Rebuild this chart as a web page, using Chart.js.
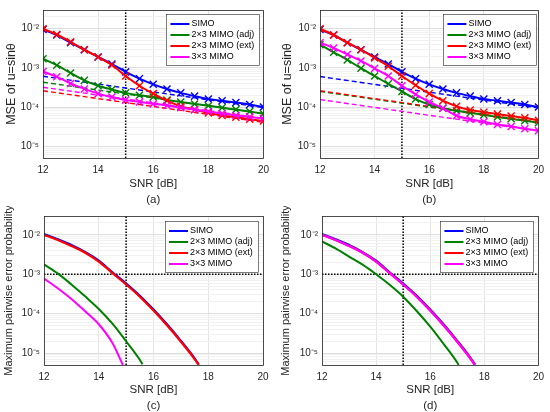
<!DOCTYPE html>
<html>
<head>
<meta charset="utf-8">
<script src="https://cdn.jsdelivr.net/npm/chart.js@4.4.1/dist/chart.umd.min.js"></script>
<style>
body{margin:0;background:#fff;}
#wrap{position:relative;width:550px;height:412px;overflow:hidden;background:#fff}
#wrap canvas{position:absolute}
</style>
</head>
<body>
<div id="wrap">
<canvas id="chartA" width="275" height="208" style="left:0;top:0"></canvas>
<canvas id="chartB" width="275" height="208" style="left:275px;top:0"></canvas>
<canvas id="chartC" width="275" height="208" style="left:0;top:206px"></canvas>
<canvas id="chartD" width="275" height="208" style="left:275px;top:206px"></canvas>
</div>
<script>
// ---- data ----

const snrGrid=[12,12.5,13,13.5,14,14.5,15,15.5,16,16.5,17,17.5,18,18.5,19,19.5,20];
const crbSnr=[12,20];
const decadeTicks=[1e-5,1e-4,1e-3,1e-2];
const minorSteps=[1,2,3,4,5,6,7,8,9];
const legendLabels=["SIMO","2\u00d73 MIMO (adj)","2\u00d73 MIMO (ext)","3\u00d73 MIMO"];
const seriesColors=["#0000ff","#008000","#ff0000","#ff00ff"];
const refSnr=15;
const refPep=1e-3;
const yMin=5e-6, yMax=3e-2;

// (a) MSE, solid = simulated, dashed = CRB
const mseSimoA=[9.5e-3,6.9e-3,4.4e-3,2.9e-3,1.9e-3,1.25e-3,7.9e-4,5.3e-4,3.8e-4,2.9e-4,2.3e-4,1.9e-4,1.6e-4,1.45e-4,1.3e-4,1.16e-4,1.0e-4];
const mseAdjA=[1.7e-3,1.17e-3,7.4e-4,4.8e-4,3.5e-4,2.8e-4,2.3e-4,2.0e-4,1.8e-4,1.5e-4,1.35e-4,1.2e-4,1.08e-4,9.6e-5,8.6e-5,7.7e-5,6.7e-5];
const mseExtA=[1.0e-2,7.1e-3,4.6e-3,2.9e-3,1.9e-3,1.18e-3,6.2e-4,3.5e-4,2.2e-4,1.45e-4,1.04e-4,8.6e-5,7.1e-5,6.1e-5,5.5e-5,4.9e-5,4.4e-5];
const mse33A=[8.1e-4,5.9e-4,4.0e-4,2.9e-4,2.2e-4,1.8e-4,1.5e-4,1.35e-4,1.2e-4,1.1e-4,9.6e-5,8.6e-5,7.7e-5,6.8e-5,6.1e-5,5.6e-5,5.1e-5];
const crbSimoA=[6.1e-4,9.7e-5];
const crbAdjA=[4.3e-4,6.8e-5];
const crbExtA=[2.6e-4,4.1e-5];
const crb33A=[3.2e-4,5.1e-5];

// (b)
const mseSimoB=[9.5e-3,6.9e-3,4.4e-3,2.9e-3,1.9e-3,1.25e-3,7.9e-4,5.3e-4,3.8e-4,2.9e-4,2.3e-4,1.9e-4,1.6e-4,1.45e-4,1.3e-4,1.16e-4,1.0e-4];
const mseAdjB=[3.9e-3,2.5e-3,1.6e-3,9.8e-4,6.2e-4,3.9e-4,2.5e-4,1.6e-4,1.16e-4,9.3e-5,8.0e-5,7.1e-5,6.3e-5,5.6e-5,5.0e-5,4.5e-5,4.0e-5];
const mseExtB=[1.0e-2,6.9e-3,4.4e-3,2.9e-3,1.8e-3,1.1e-3,6.2e-4,3.6e-4,2.2e-4,1.45e-4,1.04e-4,8.4e-5,7.4e-5,6.6e-5,5.9e-5,5.3e-5,4.6e-5];
const mse33B=[4.4e-3,3.2e-3,2.2e-3,1.5e-3,9.7e-4,6.2e-4,3.5e-4,2.1e-4,1.35e-4,9.3e-5,6.0e-5,4.9e-5,4.2e-5,3.6e-5,3.2e-5,2.8e-5,2.5e-5];
const crbSimoB=[6.0e-4,9.5e-5];
const crbAdjB=[2.5e-4,4.0e-5];
const crbExtB=[2.6e-4,4.1e-5];
const crb33B=[1.55e-4,2.45e-5];

// (c) max pairwise error probability
const snrLongC=[12,12.5,13,13.5,14,14.5,15,15.5,16,16.5,17,17.5,17.65];
const pepSimoC=[1.04e-2,7.7e-3,5.5e-3,3.65e-3,2.2e-3,1.12e-3,5.8e-4,2.85e-4,1.27e-4,5.3e-5,2.05e-5,7.4e-6,5.2e-6];
const pepExtC=[1.0e-2,7.4e-3,5.2e-3,3.5e-3,2.1e-3,1.07e-3,5.5e-4,2.7e-4,1.2e-4,5.0e-5,1.95e-5,7.1e-6,5.0e-6];
const snrAdjC=[12,12.5,13,13.5,14,14.5,15,15.5,15.6];
const pepAdjC=[1.78e-3,1.05e-3,5.5e-4,2.75e-4,1.32e-4,5.6e-5,2.0e-5,6.8e-6,5.2e-6];
const snr33C=[12,12.5,13,13.5,14,14.5,14.88];
const pep33C=[7.8e-4,4.4e-4,2.35e-4,1.15e-4,5.4e-5,1.8e-5,5.0e-6];

// (d)
const snrLongD=[12,12.5,13,13.5,14,14.5,15,15.5,16,16.5,17,17.5,17.65];
const pepSimoD=[1.04e-2,7.7e-3,5.5e-3,3.65e-3,2.2e-3,1.12e-3,5.8e-4,2.85e-4,1.27e-4,5.3e-5,2.05e-5,7.4e-6,5.2e-6];
const pepExtD=[1.0e-2,7.4e-3,5.2e-3,3.5e-3,2.1e-3,1.07e-3,5.5e-4,2.7e-4,1.2e-4,5.0e-5,1.95e-5,7.1e-6,5.0e-6];
const pep33D=[1.0e-2,7.4e-3,5.2e-3,3.5e-3,2.1e-3,1.07e-3,5.5e-4,2.7e-4,1.2e-4,5.0e-5,1.95e-5,7.1e-6,5.0e-6];
const snrAdjD=[12,12.5,13,13.5,14,14.5,15,15.5,16,16.5,17,17.05];
const pepAdjD=[6.8e-3,4.5e-3,2.8e-3,1.75e-3,1.0e-3,5.4e-4,2.7e-4,1.17e-4,4.7e-5,1.7e-5,5.75e-6,5.0e-6];

// ---- helpers ----

const FONT="'Liberation Sans', Arial, Helvetica, sans-serif";
Chart.defaults.font.family=FONT;
Chart.defaults.color="#262626";

const supMap={"-":"\u207b","0":"\u2070","1":"\u00b9","2":"\u00b2","3":"\u00b3","4":"\u2074","5":"\u2075","6":"\u2076","7":"\u2077","8":"\u2078","9":"\u2079"};

function isDecade(v){
let l=Math.log10(v);
return Math.abs(l-Math.round(l))<1e-6;
}

function decadeLabel(v){
let e=String(Math.round(Math.log10(v)));
return "10"+e.split("").map(c=>supMap[c]).join("");
}

function logTicks(){
let out=[];
for(let e=-6;e<=-1;e++){
for(let m of minorSteps){
let v=m*Math.pow(10,e);
if(v>=yMin*0.999&&v<=yMax*1.001) out.push({value:v});
}
}
return out;
}

function pts(xs,ys){
return xs.map((x,i)=>({x:x,y:ys[i]}));
}

function curve(xs,ys,color,order,extra){
return Object.assign({
data:pts(xs,ys),
borderColor:color,
backgroundColor:color,
borderWidth:2,
pointRadius:0,
fill:false,
order:order,
cubicInterpolationMode:"monotone"
},extra||{});
}

function marked(xs,ys,color,order){
return curve(xs,ys,color,order,{
pointStyle:"crossRot",
pointRadius:5,
pointBorderWidth:1.4,
pointBorderColor:color
});
}

function dashed(ys,color,order){
return curve(crbSnr,ys,color,order,{borderDash:[5,3],borderWidth:1.4});
}

function dotted(xs,ys){
return curve(xs,ys,"#000000",60,{borderDash:[1.5,1.5],borderWidth:1.5,cubicInterpolationMode:"default"});
}

const framePlugin={
id:"frame",
afterDatasetsDraw(chart){
let a=chart.chartArea,c=chart.ctx;
c.save();
c.strokeStyle="#262626";
c.lineWidth=0.8;
c.strokeRect(Math.round(a.left)+0.5,Math.round(a.top)+0.5,Math.round(a.right-a.left),Math.round(a.bottom-a.top));
c.restore();
}
};

const boxLegend={
id:"boxLegend",
afterDraw(chart,args,o){
let a=chart.chartArea,c=chart.ctx;
let w=93,h=51,row=11;
let left=a.right-o.gapRight-w,top=a.top+o.gapTop;
c.save();
c.fillStyle="#ffffff";
c.fillRect(left,top,w,h);
c.strokeStyle="#262626";
c.lineWidth=0.6;
c.strokeRect(Math.round(left)+0.5,Math.round(top)+0.5,w,h);
c.font="9px "+FONT;
c.textBaseline="middle";
legendLabels.forEach((lab,i)=>{
let y=top+10+i*row;
c.strokeStyle=seriesColors[i];
c.lineWidth=2;
c.beginPath();
c.moveTo(left+4,y);
c.lineTo(left+23,y);
c.stroke();
c.fillStyle="#000000";
c.fillText(lab,left+25,y);
});
c.restore();
}
};

function makePanel(id,datasets,yTitle,tag,geo){
new Chart(document.getElementById(id),{
type:"line",
data:{datasets:datasets},
options:{
responsive:false,
animation:false,
events:[],
layout:{autoPadding:false,padding:{top:geo.top,right:geo.right,left:0,bottom:0}},
plugins:{
legend:{display:false},
tooltip:{enabled:false},
boxLegend:{gapRight:geo.lgRight,gapTop:geo.lgTop}
},
scales:{
x:{
type:"linear",
min:12,max:20,
afterFit:s=>{s.height=geo.xh;},
ticks:{stepSize:2,font:{size:10},padding:6,color:"#262626",maxRotation:0},
grid:{color:"#e4e4e4",drawTicks:false},
border:{display:false},
title:{display:true,text:["SNR [dB]",tag],font:{size:11.5,lineHeight:1.4},padding:{top:1,bottom:0},color:"#262626"}
},
y:{
type:"logarithmic",
min:yMin,max:yMax,
afterFit:s=>{s.width=geo.yw;},
afterBuildTicks:s=>{s.ticks=logTicks();},
ticks:{autoSkip:false,font:{size:10},padding:4,color:"#262626",callback:v=>isDecade(v)?decadeLabel(v):""},
grid:{color:ctx=>ctx.tick&&isDecade(ctx.tick.value)?"#dedede":"#f1f1f1",drawTicks:false},
border:{display:false},
title:{display:true,text:yTitle,font:{size:geo.yts},padding:{top:geo.ytp,bottom:0},color:"#262626"}
}
}
},
plugins:[framePlugin,boxLegend]
});
}

// ---- panels ----

const vLine=()=>dotted([refSnr,refSnr],[yMin,yMax]);
const hLine=()=>dotted([12,20],[refPep,refPep]);

makePanel("chartA",[
vLine(),
dashed(crbSimoA,seriesColors[0],14),
dashed(crbAdjA,seriesColors[1],13),
dashed(crbExtA,seriesColors[2],12),
dashed(crb33A,seriesColors[3],11),
marked(snrGrid,mseSimoA,seriesColors[0],4),
marked(snrGrid,mseAdjA,seriesColors[1],3),
marked(snrGrid,mseExtA,seriesColors[2],2),
marked(snrGrid,mse33A,seriesColors[3],1)
],"MSE of u=sin\u03b8","(a)",{top:5,right:11,yw:43,xh:50,lgRight:4,lgTop:4,yts:12.5,ytp:4});

makePanel("chartB",[
vLine(),
dashed(crbSimoB,seriesColors[0],14),
dashed(crbAdjB,seriesColors[1],13),
dashed(crbExtB,seriesColors[2],12),
dashed(crb33B,seriesColors[3],11),
marked(snrGrid,mseSimoB,seriesColors[0],4),
marked(snrGrid,mseAdjB,seriesColors[1],3),
marked(snrGrid,mseExtB,seriesColors[2],2),
marked(snrGrid,mse33B,seriesColors[3],1)
],"MSE of u=sin\u03b8","(b)",{top:5,right:9,yw:45,xh:50,lgRight:2,lgTop:4,yts:12.5,ytp:5});

makePanel("chartC",[
vLine(),
hLine(),
curve(snrLongC,pepSimoC,seriesColors[0],4,{borderWidth:2.2}),
curve(snrAdjC,pepAdjC,seriesColors[1],3),
curve(snrLongC,pepExtC,seriesColors[2],2,{borderWidth:2.2}),
curve(snr33C,pep33C,seriesColors[3],1)
],"Maximum pairwise error probability","(c)",{top:8,right:12,yw:44,xh:49,lgRight:5,lgTop:5,yts:11,ytp:2});

makePanel("chartD",[
vLine(),
hLine(),
curve(snrLongD,pepSimoD,seriesColors[0],4,{borderWidth:2.2}),
curve(snrAdjD,pepAdjD,seriesColors[1],3),
curve(snrLongD,pepExtD,seriesColors[2],2,{borderWidth:2.2}),
curve(snrLongD,pep33D,seriesColors[3],1,{borderWidth:2.2})
],"Maximum pairwise error probability","(d)",{top:8,right:11,yw:47,xh:49,lgRight:5,lgTop:5,yts:11,ytp:4});
</script>
</body>
</html>
